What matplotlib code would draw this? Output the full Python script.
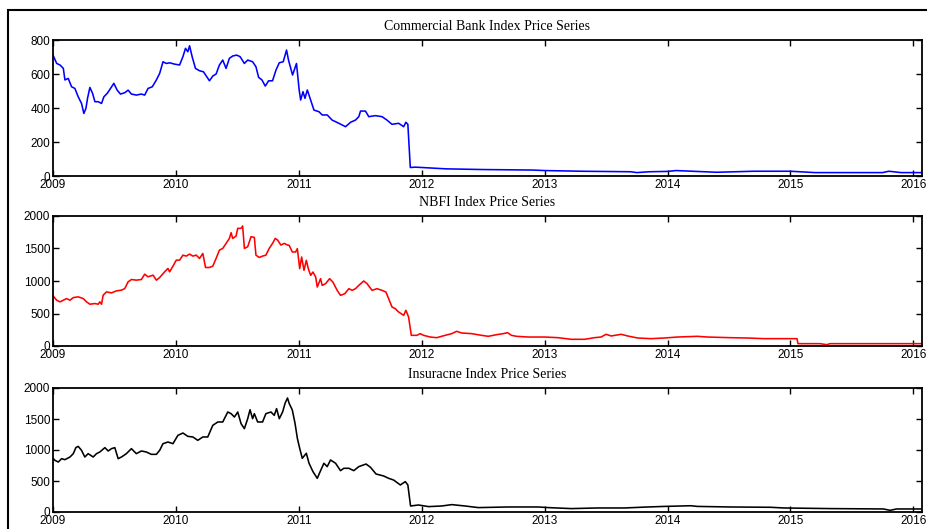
import matplotlib
matplotlib.use("Agg")
import matplotlib.pyplot as plt
import numpy as np

# decimal year, index level
bank_t = [2009.00, 2009.03, 2009.057, 2009.084, 2009.097, 2009.124, 2009.151, 2009.178, 2009.205, 2009.232,
          2009.251, 2009.268, 2009.281, 2009.30, 2009.322, 2009.341, 2009.368, 2009.395, 2009.414, 2009.441,
          2009.468, 2009.495, 2009.522, 2009.549, 2009.584, 2009.611, 2009.638, 2009.678, 2009.719, 2009.746,
          2009.773, 2009.808, 2009.841, 2009.868, 2009.895, 2009.922, 2009.949, 2009.989, 2010.03, 2010.057,
          2010.078, 2010.097, 2010.111, 2010.132, 2010.159, 2010.192, 2010.224, 2010.251, 2010.273, 2010.30,
          2010.327, 2010.354, 2010.381, 2010.408, 2010.435, 2010.462, 2010.495, 2010.522, 2010.557, 2010.584,
          2010.624, 2010.651, 2010.673, 2010.70, 2010.727, 2010.754, 2010.786, 2010.814, 2010.841, 2010.873,
          2010.90, 2010.916, 2010.949, 2010.981, 2011.003, 2011.015, 2011.034, 2011.05, 2011.069, 2011.096,
          2011.123, 2011.164, 2011.19, 2011.231, 2011.271, 2011.326, 2011.38, 2011.421, 2011.461, 2011.488,
          2011.502, 2011.542, 2011.569, 2011.623, 2011.677, 2011.717, 2011.758, 2011.812, 2011.853, 2011.871,
          2011.887, 2011.907, 2011.947, 2012.0, 2012.1, 2012.2, 2012.5, 2012.9, 2013.0, 2013.3,
          2013.7, 2013.75, 2013.85, 2014.0, 2014.07, 2014.2, 2014.4, 2014.7, 2015.0, 2015.2,
          2015.75, 2015.8, 2015.9, 2016.06]
bank_v = [711, 662, 653, 633, 565, 574, 525, 515, 466, 427,
          368, 398, 457, 521, 486, 437, 437, 427, 466, 486,
          515, 545, 505, 482, 490, 505, 482, 476, 482, 476,
          515, 525, 565, 604, 672, 662, 666, 658, 653, 702,
          751, 731, 766, 702, 633, 619, 613, 584, 560, 588,
          600, 653, 682, 633, 692, 706, 711, 702, 662, 682,
          672, 643, 580, 565, 529, 560, 560, 623, 666, 672,
          741, 682, 594, 662, 505, 447, 496, 457, 506, 447,
          388, 378, 359, 359, 329, 310, 290, 316, 329, 349,
          382, 382, 349, 355, 349, 329, 304, 310, 290, 316,
          304, 50, 52, 50, 46, 42, 38, 35, 32, 28,
          25, 20, 25, 27, 32, 28, 22, 28, 28, 20,
          20, 28, 20, 20]

nbfi_t = [2009.003, 2009.03, 2009.057, 2009.084, 2009.111, 2009.138, 2009.165, 2009.205, 2009.246, 2009.273,
          2009.30, 2009.341, 2009.368, 2009.381, 2009.395, 2009.408, 2009.435, 2009.476, 2009.516, 2009.557,
          2009.584, 2009.611, 2009.638, 2009.678, 2009.719, 2009.746, 2009.773, 2009.814, 2009.841, 2009.868,
          2009.908, 2009.935, 2009.949, 2009.976, 2010.003, 2010.03, 2010.057, 2010.084, 2010.111, 2010.138,
          2010.165, 2010.192, 2010.219, 2010.241, 2010.273, 2010.30, 2010.327, 2010.354, 2010.381, 2010.408,
          2010.435, 2010.449, 2010.462, 2010.489, 2010.503, 2010.53, 2010.543, 2010.557, 2010.584, 2010.611,
          2010.638, 2010.651, 2010.678, 2010.705, 2010.732, 2010.759, 2010.786, 2010.808, 2010.827, 2010.854,
          2010.881, 2010.908, 2010.921, 2010.947, 2010.974, 2010.988, 2011.007, 2011.023, 2011.042, 2011.061,
          2011.077, 2011.096, 2011.115, 2011.137, 2011.15, 2011.177, 2011.19, 2011.218, 2011.25, 2011.277,
          2011.312, 2011.339, 2011.374, 2011.407, 2011.434, 2011.461, 2011.488, 2011.528, 2011.555, 2011.596,
          2011.636, 2011.677, 2011.709, 2011.731, 2011.758, 2011.785, 2011.812, 2011.853, 2011.871, 2011.893,
          2011.915, 2011.96, 2011.988, 2012.015, 2012.069, 2012.122, 2012.19, 2012.244, 2012.284, 2012.325,
          2012.406, 2012.487, 2012.541, 2012.609, 2012.663, 2012.698, 2012.73, 2012.771, 2012.865, 2013.001,
          2013.109, 2013.216, 2013.325, 2013.406, 2013.459, 2013.50, 2013.541, 2013.622, 2013.676, 2013.757,
          2013.865, 2013.973, 2014.081, 2014.243, 2014.324, 2014.51, 2014.648, 2014.786, 2015.053, 2015.061,
          2015.24, 2015.296, 2015.321, 2015.864, 2016.06]
nbfi_v = [766, 704, 679, 704, 730, 704, 745, 756, 730, 679,
          643, 653, 643, 679, 643, 781, 833, 817, 848, 859,
          884, 987, 1023, 1013, 1023, 1105, 1064, 1090, 1013, 1054,
          1141, 1193, 1141, 1229, 1321, 1321, 1398, 1383, 1414, 1383,
          1398, 1347, 1424, 1208, 1208, 1229, 1347, 1475, 1501, 1578,
          1655, 1743, 1655, 1691, 1810, 1810, 1846, 1501, 1527, 1681,
          1671, 1398, 1362, 1383, 1398, 1501, 1578, 1655, 1630, 1553,
          1578, 1553, 1549, 1446, 1446, 1498, 1190, 1369, 1164, 1318,
          1190, 1087, 1138, 1061, 907, 1036, 933, 959, 1036, 984,
          856, 779, 805, 882, 856, 882, 933, 1000, 959, 856,
          882, 856, 830, 728, 600, 574, 523, 472, 549, 446,
          164, 164, 190, 164, 138, 128, 164, 190, 226, 200,
          190, 164, 149, 174, 190, 205, 164, 149, 138, 138,
          128, 103, 103, 128, 138, 180, 154, 180, 154, 123,
          113, 123, 138, 149, 138, 128, 123, 113, 113, 36,
          36, 20, 36, 36, 36]

ins_t = [2009.003, 2009.016, 2009.043, 2009.07, 2009.097, 2009.138, 2009.165, 2009.186, 2009.205, 2009.232,
         2009.259, 2009.286, 2009.327, 2009.354, 2009.381, 2009.422, 2009.449, 2009.476, 2009.503, 2009.53,
         2009.557, 2009.597, 2009.638, 2009.678, 2009.719, 2009.759, 2009.80, 2009.841, 2009.868, 2009.895,
         2009.935, 2009.976, 2010.016, 2010.057, 2010.097, 2010.138, 2010.178, 2010.219, 2010.259, 2010.30,
         2010.341, 2010.381, 2010.422, 2010.449, 2010.476, 2010.503, 2010.53, 2010.557, 2010.584, 2010.603,
         2010.624, 2010.638, 2010.665, 2010.705, 2010.732, 2010.773, 2010.80, 2010.819, 2010.841, 2010.868,
         2010.889, 2010.908, 2010.921, 2010.947, 2010.969, 2010.988, 2011.007, 2011.028, 2011.061, 2011.083,
         2011.115, 2011.15, 2011.177, 2011.204, 2011.231, 2011.258, 2011.299, 2011.339, 2011.366, 2011.407,
         2011.447, 2011.488, 2011.547, 2011.583, 2011.628, 2011.69, 2011.731, 2011.771, 2011.826, 2011.866,
         2011.887, 2011.909, 2011.974, 2012.055, 2012.163, 2012.244, 2012.352, 2012.46, 2012.703, 2012.947,
         2013.028, 2013.216, 2013.433, 2013.649, 2013.838, 2013.973, 2014.189, 2014.243, 2014.513, 2014.838,
         2014.946, 2015.323, 2015.756, 2015.81, 2015.864, 2016.06]
ins_v = [860, 833, 806, 860, 844, 887, 941, 1038, 1059, 995,
         887, 941, 887, 941, 968, 1038, 984, 1022, 1038, 860,
         887, 941, 1022, 941, 984, 968, 930, 930, 995, 1102,
         1129, 1102, 1236, 1274, 1220, 1210, 1156, 1210, 1210, 1398,
         1452, 1452, 1613, 1586, 1532, 1613, 1425, 1344, 1505, 1650,
         1505, 1586, 1452, 1452, 1586, 1613, 1559, 1667, 1505, 1613,
         1758, 1839, 1753, 1645, 1431, 1189, 1027, 866, 947, 786,
         651, 543, 667, 786, 732, 839, 786, 667, 705, 705,
         667, 732, 774, 721, 613, 581, 543, 516, 436, 490,
         436, 97, 113, 87, 97, 119, 97, 71, 81, 81,
         71, 55, 65, 65, 81, 90, 101, 90, 81, 76,
         65, 55, 49, 27, 49, 49]

titles = ["Commercial Bank Index Price Series", "NBFI Index Price Series", "Insuracne Index Price Series"]
colors = ["#0000ff", "#ff0000", "#000000"]
ymaxes = [800, 2000, 2000]
yticks = [[0, 200, 400, 600, 800], [0, 500, 1000, 1500, 2000], [0, 500, 1000, 1500, 2000]]
years = [2009, 2010, 2011, 2012, 2013, 2014, 2015, 2016]

W, H = 928, 529
fig = plt.figure(figsize=(W / 100, H / 100), dpi=100)

# outer frame
fig.add_artist(plt.Rectangle((8 / W, -0.1), 1.2, 1 - 10 / H + 0.1, transform=fig.transFigure,
                             fill=False, lw=1.5, ec="black"))

# axes boxes in pixels: top, bottom
boxes = [(40, 176), (216, 346), (388, 512)]
series = [(bank_t, bank_v), (nbfi_t, nbfi_v), (ins_t, ins_v)]

for i in range(3):
    top, bot = boxes[i]
    ax = fig.add_axes([53 / W, 1 - bot / H, (922 - 53) / W, (bot - top) / H])
    t, v = series[i]
    ax.plot(t, v, color=colors[i], lw=1.15)
    ax.set_xlim(2009, 2016.07)
    ax.set_ylim(0, ymaxes[i])
    ax.set_xticks(years)
    ax.set_xticklabels([str(y) for y in years])
    ax.set_yticks(yticks[i])
    ax.tick_params(direction="in", top=True, right=True, length=4.5, width=1,
                   labelsize=8.5, pad=2, labelfontfamily="Liberation Sans")
    for s in ax.spines.values():
        s.set_linewidth(1.3)
    ax.set_title(titles[i], fontsize=10, family="Liberation Serif", pad=7.5)

plt.savefig("out.png", dpi=100)
